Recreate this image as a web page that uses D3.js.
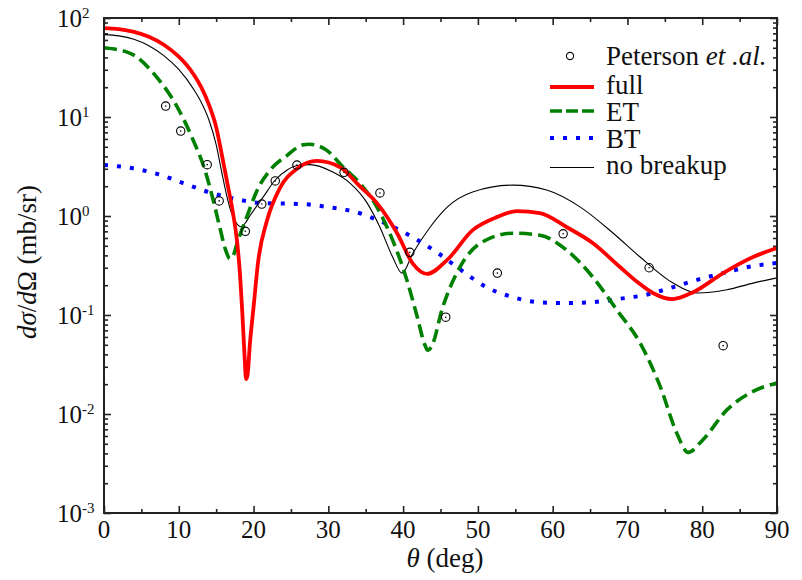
<!DOCTYPE html>
<html>
<head>
<meta charset="utf-8">
<script src="https://cdn.jsdelivr.net/npm/d3@7"></script>
</head>
<body style="margin:0">
<svg id="chart" width="802" height="580" style="font-family: 'Liberation Serif', Tinos, 'Times New Roman', FreeSerif, serif"></svg>
<script>
// Scattering angle tick labels and decades of the cross section
const xTicks = [0, 10, 20, 30, 40, 50, 60, 70, 80, 90];
const xMinorTicks = [5, 15, 25, 35, 45, 55, 65, 75, 85];
const yExponents = [-3, -2, -1, 0, 1, 2];

// Measured points (Peterson et al.)
const expTheta = [8.25, 10.26, 13.8, 15.4, 18.9, 21.1, 22.9, 25.8, 32.1, 36.9, 40.9, 45.7, 52.6, 61.4, 72.9, 82.8];
const expValue = [12.9, 7.2, 3.3, 1.42, 0.70, 1.32, 2.26, 3.27, 2.76, 1.71, 0.43, 0.095, 0.265, 0.66, 0.30, 0.049];

// Full calculation
const fullTheta = [0, 2, 4, 6, 8, 10, 11, 12, 13, 14, 15, 15.8, 16.5, 17.25, 17.8, 18.2, 18.5, 18.8, 19.0, 19.2, 19.5, 20.0, 20.6, 21.8, 23.5, 25.8, 28.5, 31.6, 34.2, 36.5, 39.2, 41.3, 43.2, 45.9, 49.3, 52.6, 55.2, 58.3, 61.9, 65.4, 69.0, 71.5, 73.4, 76.0, 78.8, 82.8, 86.8, 90];
const fullValue = [79, 77.3, 72.4, 64.6, 53.7, 40.7, 33.9, 26.9, 20, 13.5, 7.9, 4.0, 2.14, 1.07, 0.55, 0.25, 0.105, 0.038, 0.0225, 0.025, 0.05, 0.12, 0.34, 0.9, 1.9, 3.0, 3.6, 3.1, 2.0, 1.35, 0.67, 0.33, 0.26, 0.36, 0.72, 0.98, 1.12, 1.07, 0.77, 0.53, 0.305, 0.21, 0.167, 0.145, 0.17, 0.265, 0.385, 0.475];

// Elastic transfer (ET)
const etTheta = [0, 3.5, 7.1, 9.8, 11.9, 13.5, 14.6, 15.5, 16.2, 16.85, 17.3, 17.8, 19.1, 20.5, 22.2, 24.5, 26.5, 27.5, 29.8, 32.0, 34.2, 36.5, 38.6, 40.5, 41.9, 42.9, 43.3, 43.8, 45.3, 47.6, 50.3, 54.7, 58.3, 61.9, 65.4, 68.6, 71.7, 74.4, 76.6, 78.1, 80.1, 83.3, 86.4, 90];
const etValue = [50, 44, 25, 12.6, 5.9, 2.9, 1.45, 0.76, 0.47, 0.37, 0.4, 0.53, 0.98, 1.83, 2.9, 4.1, 5.2, 5.3, 4.6, 3.1, 2.15, 1.23, 0.57, 0.226, 0.095, 0.05, 0.044, 0.048, 0.12, 0.305, 0.53, 0.67, 0.64, 0.45, 0.24, 0.112, 0.052, 0.0188, 0.0064, 0.0041, 0.0055, 0.011, 0.0163, 0.0206];

// Breakup transfer (BT)
const btTheta = [0, 3.7, 7.2, 10.6, 13.9, 17.5, 21.1, 26.5, 30.0, 33.6, 36.9, 40.0, 41.8, 44.7, 47.6, 51.2, 54.6, 58.0, 61.6, 65.4, 68.7, 72.3, 75.7, 79.3, 82.8, 86.1, 90];
const btValue = [3.27, 3.05, 2.65, 2.15, 1.75, 1.49, 1.35, 1.32, 1.23, 1.1, 0.89, 0.69, 0.58, 0.42, 0.29, 0.19, 0.152, 0.135, 0.132, 0.135, 0.145, 0.159, 0.187, 0.226, 0.265, 0.305, 0.335];

// Calculation without breakup channels
const nbTheta = [0, 2, 4, 6, 8, 10, 12, 13, 14, 15, 15.7, 16.4, 17.1, 17.7, 18.3, 18.9, 19.5, 21.3, 22.9, 24.5, 26.2, 27.5, 30.6, 32.9, 35.2, 36.9, 38.6, 39.85, 41.3, 43.6, 45.9, 49.3, 54.7, 59.2, 63.7, 68.1, 71.7, 76.1, 79.3, 83.3, 86.8, 90];
const nbValue = [68, 66, 61, 52.5, 41.7, 30.2, 19, 14.1, 9.5, 5.25, 2.88, 1.62, 1.05, 0.85, 0.78, 0.85, 1.0, 1.56, 2.31, 2.92, 3.27, 3.3, 2.78, 2.15, 1.35, 0.77, 0.385, 0.265, 0.42, 0.77, 1.23, 1.75, 2.05, 1.83, 1.23, 0.67, 0.385, 0.21, 0.167, 0.18, 0.21, 0.237];

const svg = d3.select("#chart");
const plotLeft = 104, plotTop = 18, plotRight = 777, plotBottom = 513;

const x = d3.scaleLinear().domain([0, 90]).range([plotLeft, plotRight]);
const y = d3.scaleLog().domain([1e-3, 1e2]).range([plotBottom, plotTop]);

const tickColor = "#222";
const serifStack = "'Liberation Serif', Tinos, 'Times New Roman', FreeSerif, serif";

// Serif text helper
function label(parent, size) {
  return parent.append("text")
    .attr("font-size", size)
    .attr("fill", "#111")
    .attr("font-family", serifStack)
    .style("font-family", serifStack);
}

// Minor ticks on the log axis: 2..9 times each decade
const yMinor = [];
for (let e = -3; e < 2; e++) for (let m = 2; m <= 9; m++) yMinor.push(m * Math.pow(10, e));
const yMajor = yExponents.map(e => Math.pow(10, e));

function styleAxis(g) {
  g.select(".domain").remove();
  g.selectAll(".tick line").attr("stroke", tickColor).attr("stroke-width", 1.6);
  g.selectAll(".tick text").remove();
  g.attr("font-family", null).attr("font-size", null);
}

// Inward ticks on all four sides
svg.append("g").attr("transform", `translate(0,${plotBottom})`)
  .call(d3.axisBottom(x).tickValues(xTicks).tickSize(-7).tickFormat(""))
  .call(styleAxis);
svg.append("g").attr("transform", `translate(0,${plotBottom})`)
  .call(d3.axisBottom(x).tickValues(xMinorTicks).tickSize(-4).tickFormat(""))
  .call(styleAxis);
svg.append("g").attr("transform", `translate(0,${plotTop})`)
  .call(d3.axisTop(x).tickValues(xTicks).tickSize(-7).tickFormat(""))
  .call(styleAxis);
svg.append("g").attr("transform", `translate(0,${plotTop})`)
  .call(d3.axisTop(x).tickValues(xMinorTicks).tickSize(-4).tickFormat(""))
  .call(styleAxis);
svg.append("g").attr("transform", `translate(${plotLeft},0)`)
  .call(d3.axisLeft(y).tickValues(yMajor).tickSize(-7).tickFormat(""))
  .call(styleAxis);
svg.append("g").attr("transform", `translate(${plotLeft},0)`)
  .call(d3.axisLeft(y).tickValues(yMinor).tickSize(-4).tickFormat(""))
  .call(styleAxis);
svg.append("g").attr("transform", `translate(${plotRight},0)`)
  .call(d3.axisRight(y).tickValues(yMajor).tickSize(-7).tickFormat(""))
  .call(styleAxis);
svg.append("g").attr("transform", `translate(${plotRight},0)`)
  .call(d3.axisRight(y).tickValues(yMinor).tickSize(-4).tickFormat(""))
  .call(styleAxis);

// Tick labels
xTicks.forEach(t => {
  label(svg, 25).attr("x", x(t)).attr("y", plotBottom + 25)
    .attr("text-anchor", "middle").text(t);
});
yExponents.forEach(e => {
  const yy = y(Math.pow(10, e)) + 8.5;
  label(svg, 25).attr("x", 82).attr("y", yy).attr("text-anchor", "end").text("10");
  label(svg, 15).attr("x", 82).attr("y", yy - 9).text(e);
});

// Axis titles
const xt = label(svg, 27).attr("x", 445).attr("y", 567).attr("text-anchor", "middle");
xt.append("tspan").attr("font-style", "italic").text("θ");
xt.append("tspan").text(" (deg)");

const yt = label(svg, 27).attr("transform", "translate(36,262) rotate(-90)").attr("text-anchor", "middle");
yt.append("tspan").attr("font-style", "italic").text("dσ");
yt.append("tspan").text("/");
yt.append("tspan").attr("font-style", "italic").text("d");
yt.append("tspan").text("Ω (mb/sr)");

// Curves
const plot = svg.append("g");
const line = d3.line().x(d => x(d[0])).y(d => y(d[1])).curve(d3.curveMonotoneX);
const zip = (a, b) => a.map((t, i) => [t, b[i]]);

plot.append("path").datum(zip(nbTheta, nbValue)).attr("d", line)
  .attr("fill", "none").attr("stroke", "#000").attr("stroke-width", 1.1);
plot.append("path").datum(zip(btTheta, btValue)).attr("d", line)
  .attr("fill", "none").attr("stroke", "#0000ff").attr("stroke-width", 4)
  .attr("stroke-dasharray", "4,9");
plot.append("path").datum(zip(etTheta, etValue)).attr("d", line)
  .attr("fill", "none").attr("stroke", "#008000").attr("stroke-width", 3.6)
  .attr("stroke-dasharray", "13,6");
plot.append("path").datum(zip(fullTheta, fullValue)).attr("d", line)
  .attr("fill", "none").attr("stroke", "#ff0000").attr("stroke-width", 3.8);

// Measured points: open circles with a centre dot
const pts = plot.append("g").selectAll("g").data(zip(expTheta, expValue)).join("g")
  .attr("transform", d => `translate(${x(d[0])},${y(d[1])})`);
pts.append("circle").attr("r", 4.2).attr("fill", "none").attr("stroke", "#000").attr("stroke-width", 1.1);
pts.append("circle").attr("r", 0.8).attr("fill", "#000");

// Frame
svg.append("rect").attr("x", plotLeft).attr("y", plotTop)
  .attr("width", plotRight - plotLeft).attr("height", plotBottom - plotTop)
  .attr("fill", "none").attr("stroke", tickColor).attr("stroke-width", 2);

// Legend
const lg = svg.append("g");
lg.append("circle").attr("cx", 570).attr("cy", 56).attr("r", 3.6).attr("fill", "none").attr("stroke", "#000").attr("stroke-width", 1.1);
const pt = label(lg, 27).attr("x", 606).attr("y", 65);
pt.append("tspan").text("Peterson ");
pt.append("tspan").attr("font-style", "italic").text("et .al.");

const legendLines = [
  { y: 87, label: "full", stroke: "#ff0000", w: 3.8, dash: null, ty: 94 },
  { y: 111, label: "ET", stroke: "#008000", w: 3.6, dash: "12,4", ty: 121 },
  { y: 138, label: "BT", stroke: "#0000ff", w: 4, dash: "4,9", ty: 148 },
  { y: 167.5, label: "no breakup", stroke: "#000", w: 1.1, dash: null, ty: 174 }
];
legendLines.forEach(d => {
  lg.append("line").attr("x1", 550).attr("x2", 594).attr("y1", d.y).attr("y2", d.y)
    .attr("stroke", d.stroke).attr("stroke-width", d.w)
    .attr("stroke-dasharray", d.dash);
  label(lg, 27).attr("x", 606).attr("y", d.ty).text(d.label);
});
</script>
</body>
</html>
